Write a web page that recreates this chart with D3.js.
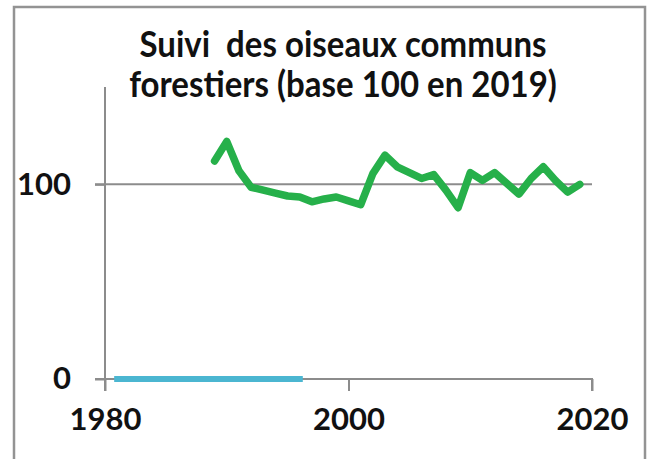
<!DOCTYPE html>
<html>
<head>
<meta charset="utf-8">
<script src="https://cdn.jsdelivr.net/npm/d3@7"></script>
<style>
  html, body { margin: 0; padding: 0; background: #fff; }
  svg { display: block; }
  text { font-family: Lato, "Open Sans", sans-serif; font-weight: bold; fill: #111; }
</style>
</head>
<body>
<svg id="chart" width="654" height="459"></svg>
<script>
const titleLines = ["Suivi  des oiseaux communs", "forestiers (base 100 en 2019)"];

// forest birds index (base 100 in 2019)
const greenYears = [1989, 1990, 1991, 1992, 1993, 1994, 1995, 1996, 1997, 1998, 1999, 2000,
  2001, 2002, 2003, 2004, 2005, 2006, 2007, 2008, 2009, 2010, 2011, 2012, 2013, 2014,
  2015, 2016, 2017, 2018, 2019];
const greenValues = [112, 122, 107, 98.5, 97, 95.5, 94, 93.5, 91, 92.5, 93.5, 91.5,
  89.5, 105.5, 115, 109, 106, 103, 105, 97, 88, 106, 102, 106, 100.5, 95,
  103, 109, 102, 96, 100];

// second series, flat at zero
const blueYears = [1981, 1984, 1988, 1992, 1996];
const blueValues = [0, 0, 0, 0, 0];

const xTicks = [1980, 2000, 2020];
const yTicks = [0, 100];

const svg = d3.select("#chart");

const x = d3.scaleLinear().domain([1980, 2020]).range([105, 592]);
const y = d3.scaleLinear().domain([0, 150]).range([379, 87]);

// frame
svg.append("rect")
  .attr("x", 14).attr("y", 7)
  .attr("width", 631).attr("height", 470)
  .attr("fill", "none")
  .attr("stroke", "#939393")
  .attr("stroke-width", 2.5);

// title (Calibri-like, a bit taller than Lato)
svg.append("g")
  .attr("transform", "translate(343,0) scale(1,1.1)")
  .selectAll("text")
  .data(titleLines)
  .enter()
  .append("text")
  .attr("x", 0)
  .attr("y", (d, i) => (57 + i * 40) / 1.1)
  .attr("text-anchor", "middle")
  .style("font-size", "33px")
  .style("white-space", "pre")
  .text(d => d);

// gridline at 100
svg.append("line")
  .attr("x1", 95).attr("x2", x(2020))
  .attr("y1", y(100)).attr("y2", y(100))
  .attr("stroke", "#8c8c8c")
  .attr("stroke-width", 2);

// y axis
const yAxis = svg.append("g")
  .attr("transform", `translate(${x(1980)},0)`)
  .call(d3.axisLeft(y).tickValues(yTicks).tickSize(10).tickPadding(24));
yAxis.select(".domain").attr("d", `M0,${y(150)}V${y(0) + 12}`);

// x axis
const xAxis = svg.append("g")
  .attr("transform", `translate(0,${y(0)})`)
  .call(d3.axisBottom(x).tickValues(xTicks).tickFormat(d3.format("d")).tickSize(12).tickPadding(17));
xAxis.select(".domain").attr("d", `M${x(1980) - 10},0H${x(2020)}V12`);

svg.selectAll(".domain, .tick line")
  .attr("stroke", "#8c8c8c")
  .attr("stroke-width", 2);
svg.selectAll(".tick text")
  .style("font-size", "31px")
  .style("font-family", "Lato, sans-serif")
  .attr("fill", "#111");

const line = d3.line()
  .x(d => x(d[0]))
  .y(d => y(d[1]));

svg.append("path")
  .datum(d3.zip(blueYears, blueValues))
  .attr("d", line)
  .attr("fill", "none")
  .attr("stroke", "#4bb6d1")
  .attr("stroke-width", 6)
  .attr("stroke-linecap", "square");

svg.append("path")
  .datum(d3.zip(greenYears, greenValues))
  .attr("d", line)
  .attr("fill", "none")
  .attr("stroke", "#26b04a")
  .attr("stroke-width", 7.5)
  .attr("stroke-linejoin", "round")
  .attr("stroke-linecap", "round");
</script>
</body>
</html>
